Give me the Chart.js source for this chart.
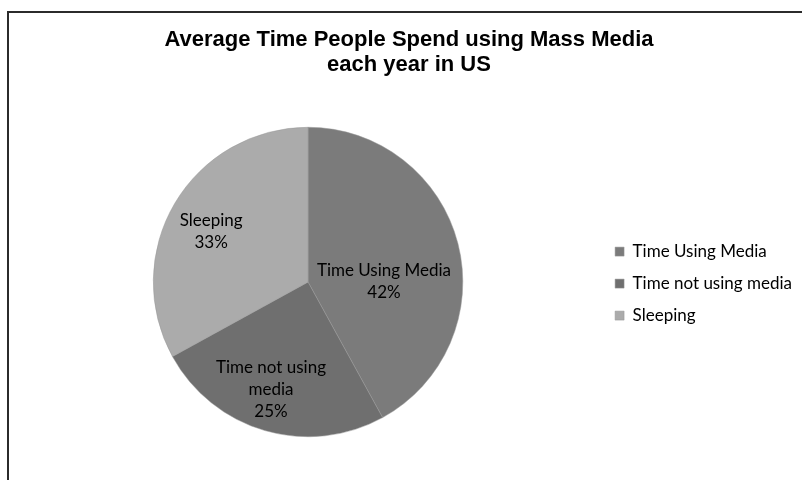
<!DOCTYPE html>
<html>
<head>
<meta charset="utf-8">
<title>Average Time People Spend using Mass Media</title>
<script src="https://cdn.jsdelivr.net/npm/chart.js@4"></script>
<style>
  html, body { margin: 0; padding: 0; background: #fff; overflow: hidden; }
  #frame {
    position: absolute; left: 7px; top: 11px; width: 900px; height: 600px;
    border-left: 2px solid #2b2b2b; border-top: 2px solid #2b2b2b;
  }
  #chart { position: absolute; left: 0; top: 0; }
</style>
</head>
<body>
<div id="frame"></div>
<canvas id="chart" width="802" height="480"></canvas>
<script>
const titleLines = ["Average Time People Spend using Mass Media", "each year in US"];
const categories = ["Time Using Media", "Time not using media", "Sleeping"];
const shares = [42, 25, 33];
// slice labels wrapped the way the original shows them
const sliceLabels = [["Time Using Media"], ["Time not using", "media"], ["Sleeping"]];
const sliceColors = ["#7b7b7b", "#6f6f6f", "#ababab"];

// Draws "name / xx%" inside each slice (Excel "best fit" look)
const pieLabels = {
  id: "pieLabels",
  afterDatasetsDraw(chart, args, opts) {
    const ctx = chart.ctx;
    const meta = chart.getDatasetMeta(0);
    const lineH = 22;
    ctx.save();
    ctx.font = "17px Lato";
    ctx.fillStyle = "#000";
    ctx.textAlign = "center";
    ctx.textBaseline = "middle";
    meta.data.forEach((arc, i) => {
      const lines = sliceLabels[i].concat(shares[i] + "%");
      const mid = (arc.startAngle + arc.endAngle) / 2;
      const r = arc.outerRadius * 0.72;
      const nudge = opts.nudge[i] || [0, 0];
      const cx = arc.x + Math.cos(mid) * r + nudge[0];
      const cy = arc.y + Math.sin(mid) * r + nudge[1];
      const top = cy - (lines.length * lineH) / 2;
      lines.forEach((l, k) => ctx.fillText(l, cx, top + lineH * (k + 0.5)));
    });
    ctx.restore();
  }
};

new Chart(document.getElementById("chart"), {
  type: "pie",
  data: {
    labels: categories,
    datasets: [{
      data: shares,
      backgroundColor: sliceColors,
      borderColor: "#999999",
      borderWidth: 0.5
    }]
  },
  options: {
    responsive: false,
    animation: false,
    devicePixelRatio: 1,
    layout: { padding: { left: 16, right: 0, top: 0, bottom: 43 } },
    plugins: {
      title: {
        display: true,
        text: titleLines,
        color: "#000",
        font: { family: "'Liberation Sans', Arial, sans-serif", size: 22, weight: "bold", lineHeight: 25 / 22 },
        padding: { top: 27, bottom: 50 }
      },
      legend: {
        position: "right",
        // empty title only pushes the items down to the middle
        title: { display: true, text: " ", font: { size: 1 }, padding: { top: 129, bottom: 0 } },
        labels: {
          color: "#000",
          font: { family: "Lato", size: 17 },
          boxWidth: 9,
          boxHeight: 9,
          padding: 15
        }
      },
      pieLabels: { nudge: [[-32, 27], [-6, 1], [-1, 6]] },
      tooltip: { enabled: false }
    }
  },
  plugins: [pieLabels]
});
</script>
</body>
</html>
